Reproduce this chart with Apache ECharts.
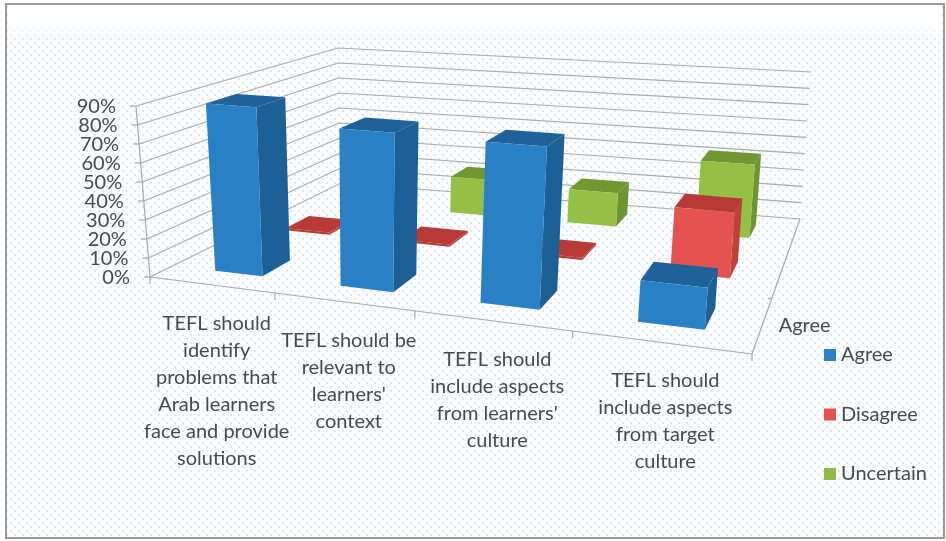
<!DOCTYPE html>
<html><head><meta charset="utf-8">
<style>html,body{margin:0;padding:0;background:#fff}#c{width:946px;height:541px}</style>
<script src="https://cdn.jsdelivr.net/npm/echarts@6/dist/echarts.min.js"></script>
</head><body><div id="c"></div>
<script>
const categories=["TEFL should\nidentify\nproblems that\nArab learners\nface and provide\nsolutions","TEFL should be\nrelevant to\nlearners'\ncontext","TEFL should\ninclude aspects\nfrom learners'\nculture","TEFL should\ninclude aspects\nfrom target\nculture"];
const yTicks=[0,10,20,30,40,50,60,70,80,90];
const agree=[88,80,79,18];
const disagree=[1,1,1,33];
const uncertain=[0,20,18,41];
const depthLabel="Agree";

// perspective frame of the 3D box (front-left, front-right, back-right, back-left)
const floorQuad=[[150,277],[752,354],[800,219],[341,183]];
const topQuad=[[136,106],[766,154],[811,72],[338,48]];
function homography(q){
  const [p0,p1,p2,p3]=q;
  const dx1=p1[0]-p2[0],dx2=p3[0]-p2[0],sx=p0[0]-p1[0]+p2[0]-p3[0];
  const dy1=p1[1]-p2[1],dy2=p3[1]-p2[1],sy=p0[1]-p1[1]+p2[1]-p3[1];
  const den=dx1*dy2-dx2*dy1;
  const g=(sx*dy2-dx2*sy)/den,h=(dx1*sy-sx*dy1)/den;
  const a=p1[0]-p0[0]+g*p1[0],b=p3[0]-p0[0]+h*p3[0],c=p0[0];
  const d=p1[1]-p0[1]+g*p1[1],e=p3[1]-p0[1]+h*p3[1],f=p0[1];
  return (u,v)=>{const k=g*u+h*v+1;return [(a*u+b*v+c)/k,(d*u+e*v+f)/k];};
}
const F=homography(floorQuad),T=homography(topQuad);
function proj(u,v,w){const a=F(u,v),b=T(u,v);return [a[0]+(b[0]-a[0])*w,a[1]+(b[1]-a[1])*w];}

const halfW=0.195, halfD=0.066, rows=3, rowStart=0.186, rowStep=0.345, sink=0.023;
const font='"Lato","Noto Sans",sans-serif', textCol='#4a4a4a', gridCol='#a9a9a9';
function norm(params,api,cat,val){
  const r=params.coordSys,p=api.coord([cat,val]);
  return {u:(p[0]-r.x)/r.width,w:(r.y+r.height-p[1])/r.height,bw:api.size([1,0])[0]/r.width};
}
function bar(row,front,topC,side){
  return function(params,api){
    const n=norm(params,api,api.value(0),api.value(1));
    const vc=rowStart+row*rowStep;
    const v0=vc-halfD,v1=vc+halfD,u0=n.u-halfW*n.bw,u1=n.u+halfW*n.bw,w=n.w;
    const b=-sink*Math.min(1,w*10);
    const poly=(pts,c)=>({type:'polygon',shape:{points:pts},style:{fill:c}});
    return {type:'group',children:[
      poly([proj(u0,v0,w),proj(u1,v0,w),proj(u1,v1,w),proj(u0,v1,w)],topC),
      poly([proj(u1,v0,b),proj(u1,v1,b),proj(u1,v1,w),proj(u1,v0,w)],side),
      poly([proj(u0,v0,b),proj(u1,v0,b),proj(u1,v0,w),proj(u0,v0,w)],w<0.05?topC:front)
    ]};
  };
}
function line(a,b){return {type:'line',shape:{x1:a[0],y1:a[1],x2:b[0],y2:b[1]},style:{stroke:gridCol,lineWidth:1.2}};}
function wallGrid(params,api){
  const n=norm(params,api,0,api.value(0));
  const a=proj(0,0,n.w),b=proj(0,1,n.w),c=proj(1,1,n.w);
  return {type:'group',children:[
    {type:'polyline',shape:{points:[a,b,c]},style:{stroke:gridCol,lineWidth:1.2,fill:null}},
    line([a[0]-6,a[1]],a),
    {type:'text',style:{text:api.value(0)+'%',x:a[0]-20,y:a[1]+1,font:'20px '+font,fill:textCol,textAlign:'right',textVerticalAlign:'middle'}}
  ]};
}
function frame(params,api){
  const ch=[line(proj(0,0,0),proj(0,0,1)),line(proj(0,0,0),proj(1,0,0)),line(proj(1,0,0),proj(1,1,0))];
  for(let i=0;i<=categories.length;i++){const p=proj(i/categories.length,0,0);ch.push(line(p,[p[0],p[1]+7]));}
  const d=proj(1,1/rows,0);ch.push(line(d,[d[0]-4,d[1]+1]));
  const dl=proj(1,.5/rows,0);
  ch.push({type:'text',style:{text:depthLabel,x:dl[0]+42,y:dl[1]+1,font:'20px '+font,fill:textCol,textAlign:'center',textVerticalAlign:'middle'}});
  return {type:'group',children:ch};
}
function catLabel(params,api){
  const idx=api.value(0),n=norm(params,api,idx,0),p=proj(n.u,0,0);
  return {type:'text',style:{text:categories[idx],x:p[0]+6,y:p[1]+25,font:'20px '+font,lineHeight:27,fill:textCol,textAlign:'center',textVerticalAlign:'top'}};
}
const dots=document.createElement('canvas');dots.width=16;dots.height=16;
(function(){const g=dots.getContext('2d');g.fillStyle='#f9fbfd';g.fillRect(0,0,16,16);g.fillStyle='#dde7f0';
  [[2,2],[10,2],[6,6],[14,6],[2,10],[10,10],[6,14],[14,14]].forEach(p=>g.fillRect(p[0],p[1],2,2));})();

const chart=echarts.init(document.getElementById('c'),null,{renderer:'canvas'});
const idx=categories.map((_,i)=>i);
const mk=(arr)=>arr.map((v,i)=>[i,v]);
chart.setOption({
  animation:false,
  backgroundColor:'#ffffff',
  graphic:[
    {type:'rect',z:-10,shape:{x:6,y:4,width:938,height:534},style:{fill:{image:dots,repeat:'repeat'},stroke:'#9a9a9a',lineWidth:2}},
    {type:'rect',z:-9,shape:{x:8,y:6,width:934,height:34},style:{fill:new echarts.graphic.LinearGradient(0,0,0,1,[{offset:0,color:'rgba(255,255,255,1)'},{offset:.6,color:'rgba(255,255,255,.9)'},{offset:1,color:'rgba(255,255,255,0)'}])}}
  ],
  grid:{left:0,right:0,top:0,bottom:0},
  xAxis:{type:'category',data:categories,show:false},
  yAxis:{type:'value',min:0,max:90,interval:10,show:false},
  legend:{orient:'vertical',left:819,top:340,itemWidth:12,itemHeight:12,itemGap:39.5,icon:'rect',data:['Agree','Disagree','Uncertain'],textStyle:{fontFamily:'Lato',fontSize:20,color:textCol},selectedMode:false},
  series:[
    {type:'custom',silent:true,renderItem:wallGrid,data:yTicks.map(t=>[t]),encode:{y:0},z:1},
    {type:'custom',silent:true,renderItem:frame,data:[[0]],encode:{x:0},z:1},
    {type:'custom',silent:true,renderItem:catLabel,data:idx.map(i=>[i]),encode:{x:0},z:1},
    {type:'custom',name:'Uncertain',silent:true,itemStyle:{color:'#8fbc45'},renderItem:bar(2,'#94c045','#6f9832','#6d9632'),data:mk(uncertain),encode:{x:0,y:1},z:2},
    {type:'custom',name:'Disagree',silent:true,itemStyle:{color:'#e4534f'},renderItem:bar(1,'#e4534f','#b83a36','#c0403c'),data:mk(disagree),encode:{x:0,y:1},z:3},
    {type:'custom',name:'Agree',silent:true,itemStyle:{color:'#2a80c4'},renderItem:bar(0,'#2a80c4','#1f6199','#1d6096'),data:mk(agree),encode:{x:0,y:1},z:4}
  ]
});
</script></body></html>
